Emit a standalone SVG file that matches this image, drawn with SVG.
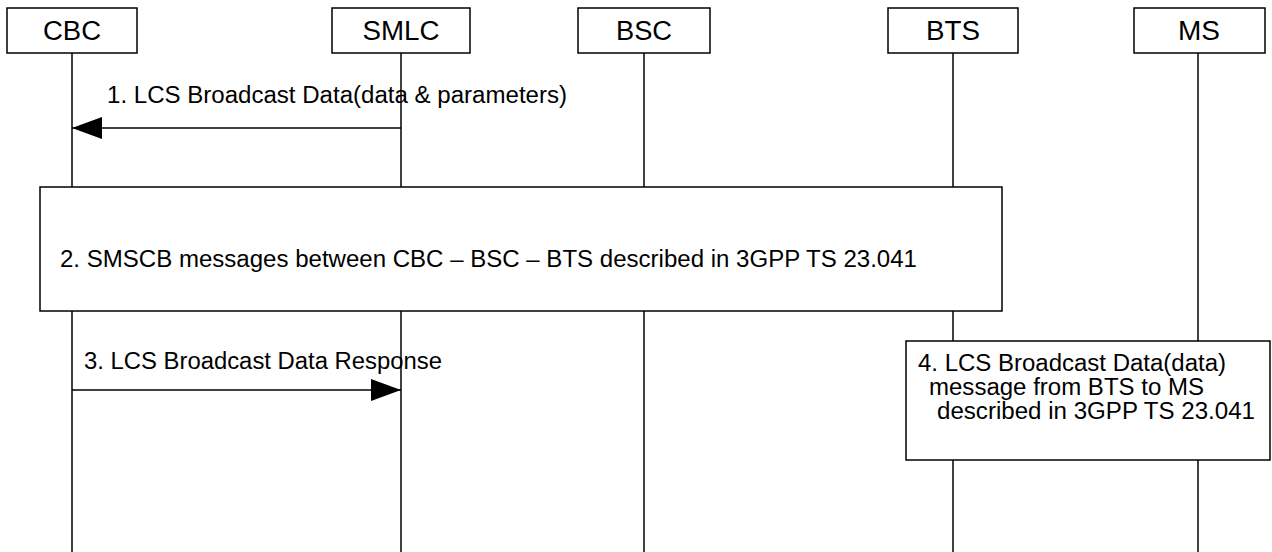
<svg xmlns="http://www.w3.org/2000/svg" width="1272" height="552" viewBox="0 0 1272 552">
<style>
.box{fill:#fff;stroke:#000;stroke-width:1.5}
.life{stroke:#000;stroke-width:1.5}
.msg{stroke:#000;stroke-width:1.5;fill:none}
.hd{font-family:"Liberation Sans",Arial,sans-serif;font-size:27px;text-anchor:middle;fill:#000}
.lbl{font-family:"Liberation Sans",Arial,sans-serif;font-size:23px;fill:#000}
</style>
<defs>
<marker id="ah" markerWidth="30" markerHeight="22" refX="30" refY="11" orient="auto" markerUnits="userSpaceOnUse">
<path d="M0,0 L30,11 L0,22 Z" fill="#000"/>
</marker>
</defs>
<rect width="1272" height="552" fill="#fff"/>
<g id="lifelines">
<line class="life" x1="72" y1="53" x2="72" y2="552"/>
<line class="life" x1="401" y1="53" x2="401" y2="552"/>
<line class="life" x1="644" y1="53" x2="644" y2="552"/>
<line class="life" x1="953" y1="53" x2="953" y2="552"/>
<line class="life" x1="1198" y1="53" x2="1198" y2="552"/>
</g>
<g id="CBC"><rect class="box" x="7" y="8" width="130" height="45"/><text class="hd" x="72" y="40" textLength="58" lengthAdjust="spacingAndGlyphs">CBC</text></g>
<g id="SMLC"><rect class="box" x="332" y="8" width="138" height="45"/><text class="hd" x="401" y="40" textLength="77" lengthAdjust="spacingAndGlyphs">SMLC</text></g>
<g id="BSC"><rect class="box" x="578" y="8" width="132" height="45"/><text class="hd" x="644" y="40" textLength="56" lengthAdjust="spacingAndGlyphs">BSC</text></g>
<g id="BTS"><rect class="box" x="888" y="8" width="130" height="45"/><text class="hd" x="953" y="40" textLength="54" lengthAdjust="spacingAndGlyphs">BTS</text></g>
<g id="MS"><rect class="box" x="1134" y="8" width="131" height="45"/><text class="hd" x="1199" y="40" textLength="42" lengthAdjust="spacingAndGlyphs">MS</text></g>
<g id="connectors">
<line class="msg" x1="401" y1="128" x2="72" y2="128" marker-end="url(#ah)"/>
<line class="msg" x1="72" y1="390" x2="401" y2="390" marker-end="url(#ah)"/>
</g>
<g id="labels">
<text class="lbl" x="107" y="103" textLength="460" lengthAdjust="spacingAndGlyphs">1. LCS Broadcast Data(data &amp; parameters)</text>
<text class="lbl" x="84" y="369" textLength="358" lengthAdjust="spacingAndGlyphs">3. LCS Broadcast Data Response</text>
</g>
<g id="step2"><rect class="box" x="40" y="187" width="962" height="124"/><text class="lbl" x="60" y="267" textLength="857" lengthAdjust="spacingAndGlyphs">2. SMSCB messages between CBC – BSC – BTS described in 3GPP TS 23.041</text></g>
<g id="step4"><rect class="box" x="906" y="341" width="364" height="119"/>
<text class="lbl" x="918" y="371" textLength="308" lengthAdjust="spacingAndGlyphs">4. LCS Broadcast Data(data)</text>
<text class="lbl" x="929" y="395" textLength="275" lengthAdjust="spacingAndGlyphs">message from BTS to MS</text>
<text class="lbl" x="937" y="419" textLength="318" lengthAdjust="spacingAndGlyphs">described in 3GPP TS 23.041</text>
</g>
</svg>
